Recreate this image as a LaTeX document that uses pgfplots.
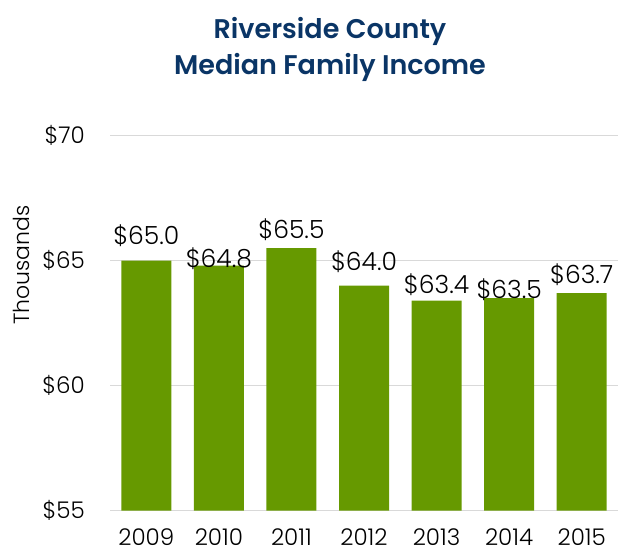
\documentclass[border=0pt]{standalone}
\usepackage{fontspec}
\setmainfont{Poppins Light}[BoldFont={Poppins SemiBold}]
\usepackage{pgfplots}
\usepackage{pgfplotstable}
\pgfplotsset{compat=1.18}
\definecolor{bargreen}{HTML}{669900}
\definecolor{titleblue}{HTML}{0A3566}
\definecolor{gridgray}{HTML}{D9D9D9}

% year, value (thousands), label lift above bar top (pt)
\pgfplotstableread{
x y dy
0 65.0 16
1 64.8 -1.7
2 65.5 10
3 64.0 15
4 63.4 7
5 63.5 0
6 63.7 9.5
}\incometable

\begin{document}
\begin{tikzpicture}[x=1pt,y=1pt]
\path[use as bounding box] (0,0) rectangle (618,552);
\node[anchor=north, inner sep=0pt, align=center, text=titleblue,
      font=\fontsize{27}{36}\selectfont\bfseries] at (330,535)
  {Riverside County\\Median Family Income};
\begin{axis}[
    at={(110pt,41.3pt)}, anchor=south west,
    scale only axis, width=508pt, height=375pt,
    ybar, bar width=50pt,
    xmin=-0.5, xmax=6.5,
    ymin=55, ymax=70, ytick={55,60,65,70},
    xtick=data,
    xticklabels={2009,2010,2011,2012,2013,2014,2015},
    yticklabel={\$\pgfmathprintnumber{\tick}},
    /pgf/number format/assume math mode=true,
    axis line style={draw=none},
    major tick length=0pt,
    ymajorgrids, grid style={gridgray, line width=1.5pt},
    tick label style={font=\fontsize{23}{23}\selectfont},
    xticklabel style={yshift=-14pt},
    yticklabel style={xshift=-21.7pt},
    ylabel={Thousands},
    ylabel style={at={(axis description cs:-0.159,0.655)}, anchor=base,
                  font=\fontsize{22}{22}\selectfont},
    nodes near coords={\$\pgfmathprintnumber[fixed,fixed zerofill,precision=1]{\pgfplotspointmeta}},
    visualization depends on={\thisrow{dy} \as \dy},
    nodes near coords style={anchor=base, inner sep=0pt, yshift=\dy pt,
                             font=\fontsize{25}{25}\selectfont},
]
\addplot[fill=bargreen, draw=none] table[x=x, y=y] {\incometable};
\end{axis}
\end{tikzpicture}
\end{document}
